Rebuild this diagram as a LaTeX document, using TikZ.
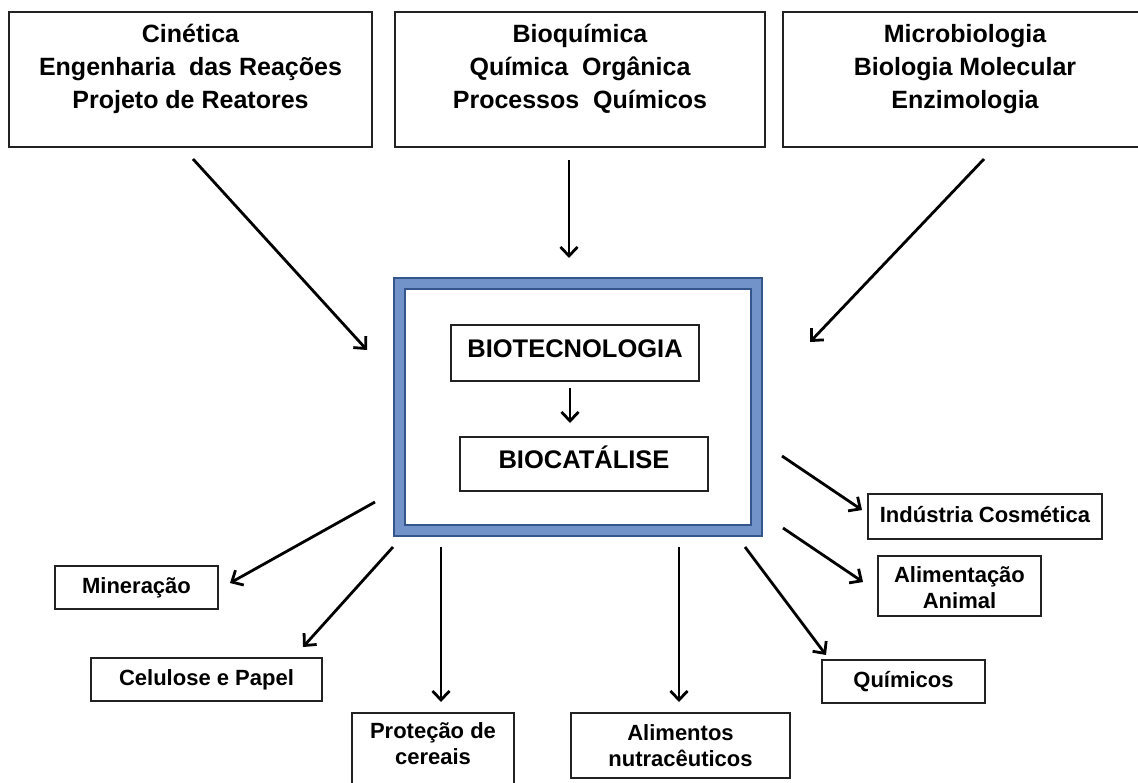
\documentclass[tikz,border=0pt]{standalone}
\usepackage{fontspec}
\setmainfont{Liberation Sans}
\usetikzlibrary{arrows.meta,positioning}
\definecolor{frameedge}{RGB}{52,86,140}
\definecolor{framefill}{RGB}{114,147,201}
\definecolor{boxline}{RGB}{34,34,34}
\begin{document}
\begin{tikzpicture}[x=1pt,y=-1pt,
	box/.style={draw=boxline,line width=1.7pt,inner sep=0pt},
	toptext/.style={align=center,inner sep=0pt,font=\fontsize{25}{33}\selectfont\bfseries},
	coretext/.style={font=\fontsize{25.5}{30}\selectfont\bfseries,text height=18pt,text depth=9pt},
	smalltext/.style={align=center,font=\fontsize{22}{26.5}\selectfont\bfseries},
	oneline/.style={text height=16pt,text depth=5pt},
	arr/.style={line width=2.8pt,-{Straight Barb[length=9pt,width=17pt]}}]
	\useasboundingbox (0,0) rectangle (1138,782);
	\node[box,minimum width=363pt,minimum height=135pt] (cin) at (190.5,79.5) {};
	\node[box,minimum width=370pt,minimum height=135pt] (bioq) at (580,79.5) {};
	\node[box,minimum width=364pt,minimum height=135pt] (micro) at (965,79.5) {};
	\node[toptext,below=13pt of cin.north] (cintxt) {Cinética\\Engenharia\ \ das Reações\\Projeto de Reatores};
	\node[toptext,below=13pt of bioq.north] (bioqtxt) {Bioquímica\\Química\ \ Orgânica\\Processos\ \ Químicos};
	\node[toptext,below=13pt of micro.north] (microtxt) {Microbiologia\\Biologia Molecular\\Enzimologia};
	\node[draw=frameedge,line width=2pt,double=framefill,double distance=9pt,minimum width=357pt,minimum height=247pt,inner sep=0pt] (core) at (578,407) {};
	\node[box,coretext,minimum width=248pt,minimum height=56pt] (tec) at (575,353) {BIOTECNOLOGIA};
	\node[box,coretext,minimum width=248pt,minimum height=54pt] (cat) at (584,464) {BIOCATÁLISE};
	\node[box,smalltext,oneline,minimum width=163pt,minimum height=43pt] (min) at (136.5,587.5) {Mineração};
	\node[box,smalltext,oneline,minimum width=231pt,minimum height=43pt] (cel) at (206.5,679.5) {Celulose e Papel};
	\node[box,minimum width=162pt,minimum height=90pt] (pro) at (433,758) {};
	\node[smalltext,inner sep=0pt,below=10pt of pro.north] (protxt) {Proteção de\\cereais};
	\node[box,smalltext,minimum width=219pt,minimum height=65pt] (ali) at (680.5,745.5) {Alimentos\\nutracêuticos};
	\node[box,smalltext,oneline,minimum width=163pt,minimum height=43pt] (qui) at (903.5,681.5) {Químicos};
	\node[box,smalltext,oneline,minimum width=234pt,minimum height=45pt] (ind) at (985,516.5) {Indústria Cosmética};
	\node[box,minimum width=163pt,minimum height=60pt] (ani) at (959.5,586) {};
	\node[smalltext,inner sep=0pt,below=11pt of ani.north] (anitxt) {Alimentação\\Animal};
	\coordinate (s1) at (193,159);  \coordinate (e1) at (367,350);
	\coordinate (s2) at (569,160);  \coordinate (e2) at (569,258);
	\coordinate (s3) at (984,159);  \coordinate (e3) at (810,342);
	\coordinate (s4) at (570,388);  \coordinate (e4) at (570,423);
	\coordinate (s5) at (375,502);  \coordinate (e5) at (230,583);
	\coordinate (s6) at (393,547);  \coordinate (e6) at (303,647);
	\coordinate (s7) at (441,547);  \coordinate (e7) at (441,702);
	\coordinate (s8) at (679,547);  \coordinate (e8) at (679,702);
	\coordinate (s9) at (745,547);  \coordinate (e9) at (826,655);
	\coordinate (s10) at (782,456); \coordinate (e10) at (862,510);
	\coordinate (s11) at (783,528); \coordinate (e11) at (863,582);
	\foreach \i in {1,...,11} \draw[arr] (s\i) -- (e\i);
\end{tikzpicture}
\end{document}
